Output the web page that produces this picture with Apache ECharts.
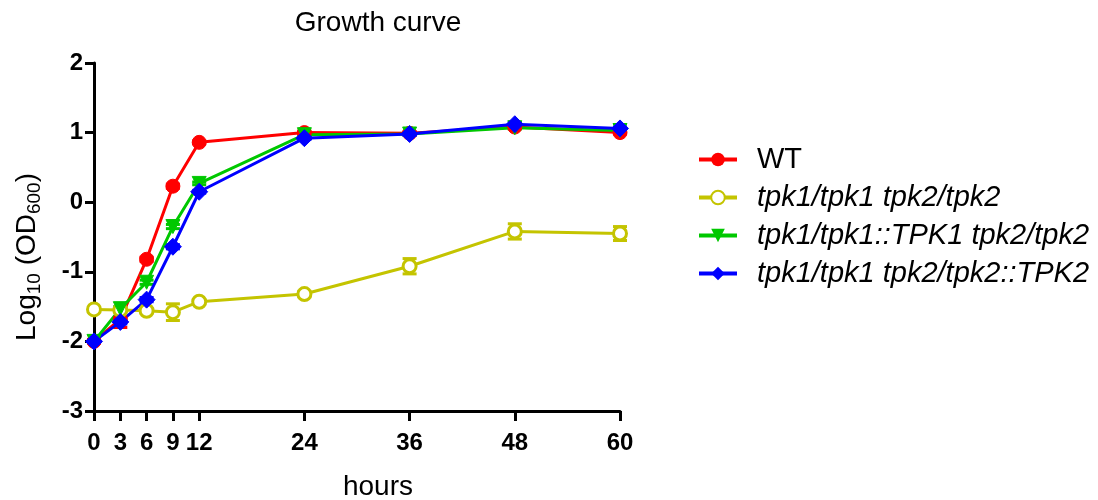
<!DOCTYPE html>
<html>
<head>
<meta charset="utf-8">
<script src="https://cdn.jsdelivr.net/npm/echarts@6/dist/echarts.min.js"></script>
<style>html,body{margin:0;padding:0;background:#fff}#c{width:1098px;height:500px}</style>
</head>
<body>
<div id="c"></div>
<script>
var hours = [0, 3, 6, 9, 12, 24, 36, 48, 60];
var xTicks = [0, 3, 6, 9, 12, 24, 36, 48, 60];
var yTicks = [-3, -2, -1, 0, 1, 2];
var seriesNames = ['WT', 'tpk1/tpk1 tpk2/tpk2', 'tpk1/tpk1::TPK1 tpk2/tpk2', 'tpk1/tpk1 tpk2/tpk2::TPK2'];
var wt    = [-2.00, -1.68, -0.82, 0.23, 0.86, 1.00, 0.99, 1.08, 1.00];
var mut   = [-1.54, -1.55, -1.56, -1.58, -1.43, -1.32, -0.92, -0.42, -0.45];
var comp1 = [-2.00, -1.53, -1.15, -0.35, 0.27, 0.97, 0.98, 1.07, 1.03];
var comp2 = [-2.00, -1.72, -1.40, -0.64, 0.15, 0.92, 0.98, 1.12, 1.06];
var wtErr    = [0.02, 0.12, 0.03, 0.03, 0.02, 0.02, 0.02, 0.02, 0.02];
var mutErr   = [0.02, 0.03, 0.03, 0.12, 0.03, 0.04, 0.11, 0.11, 0.10];
var comp1Err = [0.02, 0.03, 0.03, 0.03, 0.02, 0.02, 0.02, 0.02, 0.02];
var comp2Err = [0.02, 0.03, 0.03, 0.03, 0.02, 0.02, 0.02, 0.02, 0.02];
var colors = ['#ff0000', '#c4c400', '#00c800', '#0000ff'];

var FONT = 'Liberation Sans, Arial, sans-serif';
function pairs(v){ return hours.map(function(h,i){ return [h, v[i]]; }); }
function errData(v, e){ return hours.map(function(h,i){ return [h, v[i]-e[i], v[i]+e[i]]; }); }
function errSeries(v, e, color){
  return {
    type: 'custom', silent: true, z: 3,
    data: errData(v, e),
    encode: {x: 0, y: [1, 2]},
    renderItem: function(params, api){
      var lo = api.coord([api.value(0), api.value(1)]);
      var hi = api.coord([api.value(0), api.value(2)]);
      var w = 7;
      var st = {stroke: color, lineWidth: 3};
      return {type: 'group', children: [
        {type: 'line', shape: {x1: lo[0], y1: lo[1], x2: hi[0], y2: hi[1]}, style: st},
        {type: 'line', shape: {x1: lo[0]-w, y1: lo[1], x2: lo[0]+w, y2: lo[1]}, style: st},
        {type: 'line', shape: {x1: hi[0]-w, y1: hi[1], x2: hi[0]+w, y2: hi[1]}, style: st}
      ]};
    }
  };
}
function lineSeries(name, v, color, symbol, size, extra){
  var s = {
    name: name, type: 'line', data: pairs(v), z: 4,
    symbol: symbol, symbolSize: size, showSymbol: true,
    lineStyle: {color: color, width: 3},
    itemStyle: {color: color, borderColor: color},
    emphasis: {disabled: true}
  };
  for (var k in extra) s[k] = extra[k];
  return s;
}

var chart = echarts.init(document.getElementById('c'), null, {renderer: 'canvas'});
chart.setOption({
  animation: false,
  color: colors,
  title: {
    text: 'Growth curve', left: 373, top: 4, textAlign: 'center',
    textStyle: {fontFamily: FONT, fontSize: 28, fontWeight: 'normal', color: '#000'}
  },
  grid: {left: 94, right: 478, top: 63, bottom: 89, containLabel: false, outerBoundsMode: 'none'},
  legend: {
    orient: 'vertical', left: 697, top: 145, padding: 0,
    itemWidth: 38, itemHeight: 17, itemGap: 9,
    lineStyle: {width: 4},
    textStyle: {fontFamily: FONT, fontSize: 29, color: '#000', padding: [0, 0, 0, 15]},
    data: [
      {name: seriesNames[0], textStyle: {fontStyle: 'normal'}},
      {name: seriesNames[1], textStyle: {fontStyle: 'italic'}},
      {name: seriesNames[2], textStyle: {fontStyle: 'italic'}},
      {name: seriesNames[3], textStyle: {fontStyle: 'italic'}}
    ]
  },
  xAxis: {
    type: 'value', min: 0, max: 60, interval: 3,
    name: 'hours', nameLocation: 'middle', nameGap: 62,
    nameTextStyle: {fontFamily: FONT, fontSize: 28, color: '#000', padding: [0, 0, 0, 42]},
    axisLine: {show: true, onZero: false, lineStyle: {color: '#000', width: 3}},
    axisTick: {show: true, length: 10, lineStyle: {color: '#000', width: 3}, customValues: xTicks},
    axisLabel: {fontFamily: FONT, fontSize: 24, fontWeight: 'bold', color: '#000', margin: 20, customValues: xTicks},
    splitLine: {show: false}
  },
  yAxis: {
    type: 'value', min: -3, max: 2, interval: 1,
    name: '{a|Log}{s|10}{a| (OD}{s|600}{a|)}',
    nameLocation: 'middle', nameGap: 50,
    nameTextStyle: {
      fontFamily: FONT, color: '#000', padding: [0, 40, 0, 0],
      rich: {
        a: {fontFamily: FONT, fontSize: 28, color: '#000', lineHeight: 34, verticalAlign: 'middle'},
        s: {fontFamily: FONT, fontSize: 19, color: '#000', lineHeight: 34, padding: [15, 0, 0, 0], verticalAlign: 'middle'}
      }
    },
    axisLine: {show: true, onZero: false, lineStyle: {color: '#000', width: 3}},
    axisTick: {show: true, length: 9, lineStyle: {color: '#000', width: 3}},
    axisLabel: {fontFamily: FONT, fontSize: 24, fontWeight: 'bold', color: '#000', margin: 11,
      formatter: function(v){ return yTicks.indexOf(v) >= 0 ? String(v) : ''; }},
    splitLine: {show: false}
  },
  series: [
    errSeries(wt, wtErr, colors[0]),
    errSeries(mut, mutErr, colors[1]),
    errSeries(comp1, comp1Err, colors[2]),
    errSeries(comp2, comp2Err, colors[3]),
    lineSeries(seriesNames[0], wt, colors[0], 'circle', 14, {}),
    lineSeries(seriesNames[1], mut, colors[1], 'circle', 13, {itemStyle: {color: '#fff', borderColor: colors[1], borderWidth: 3}}),
    lineSeries(seriesNames[2], comp1, colors[2], 'triangle', 14, {symbolRotate: 180}),
    lineSeries(seriesNames[3], comp2, colors[3], 'diamond', 17, {})
  ]
});
</script>
</body>
</html>
